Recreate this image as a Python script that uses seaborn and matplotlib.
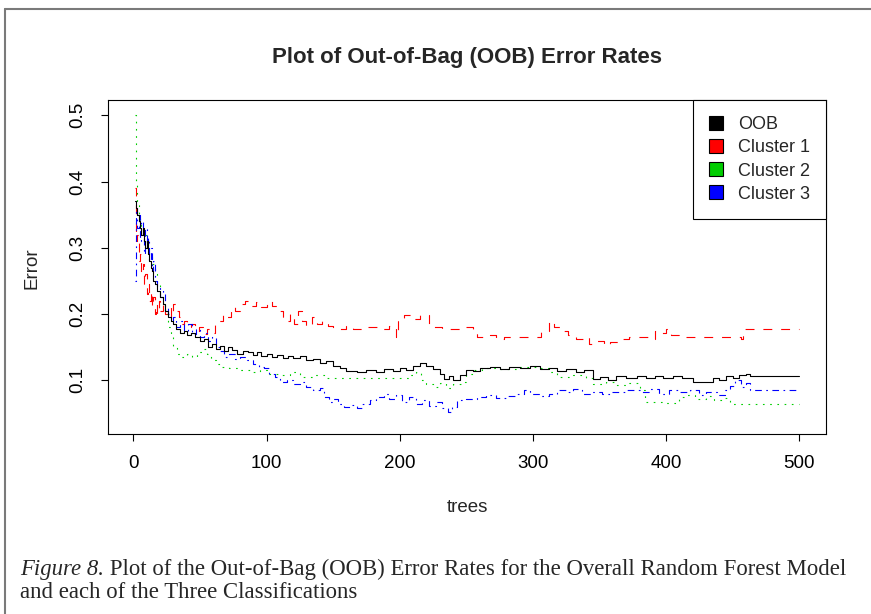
import numpy as np
import pandas as pd
import matplotlib
matplotlib.use("Agg")
import matplotlib.pyplot as plt
from matplotlib.lines import Line2D
import seaborn as sns

# ---------------- data (step breakpoints) ----------------
oob_trees = [1,2,3,4,5,6,7,8,9,10,11,12,13,14,15,16,18,20,22,24,26,28,30,32,35,38,40,43,46,50,
             53,56,59,62,65,68,71,74,78,82,86,90,93,96,100,104,108,112,116,120,125,130,135,140,
             145,150,155,160,168,175,182,188,195,200,205,210,215,220,225,230,233,237,240,245,250,
             255,260,268,275,282,290,298,305,312,318,325,332,338,345,350,356,362,370,378,385,392,
             398,405,412,420,428,435,440,445,450,455,460,463,500]
oob_vals = [0.37,0.36,0.35,0.34,0.33,0.32,0.33,0.31,0.30,0.31,0.29,0.28,0.27,0.265,0.25,0.245,0.235,
            0.225,0.215,0.205,0.195,0.19,0.185,0.178,0.172,0.175,0.168,0.172,0.165,0.160,0.163,0.150,
            0.155,0.148,0.152,0.145,0.150,0.146,0.140,0.145,0.142,0.138,0.143,0.137,0.140,0.135,0.138,
            0.133,0.137,0.134,0.136,0.130,0.132,0.126,0.129,0.122,0.119,0.114,0.112,0.115,0.113,0.117,
            0.114,0.118,0.116,0.121,0.126,0.122,0.117,0.110,0.102,0.106,0.100,0.108,0.116,0.114,0.118,
            0.120,0.117,0.120,0.118,0.121,0.117,0.119,0.114,0.117,0.112,0.115,0.102,0.105,0.101,0.106,
            0.104,0.106,0.103,0.107,0.104,0.106,0.104,0.098,0.097,0.103,0.100,0.106,0.103,0.108,0.110,
            0.107,0.107]

c1_trees = [1,2,3,4,5,6,7,8,9,10,11,12,13,14,15,16,17,18,19,20,22,24,26,28,30,32,34,36,38,40,43,46,
            49,52,55,58,61,64,67,70,73,76,80,84,88,92,96,100,104,108,112,115,118,121,124,127,130,134,
            138,142,146,150,160,165,175,185,192,197,199,203,208,215,222,232,245,255,258,268,272,278,
            300,306,312,316,320,326,332,338,342,348,353,358,364,372,388,392,396,400,404,410,456,458,500]
c1_vals = [0.39,0.31,0.32,0.28,0.29,0.26,0.275,0.245,0.26,0.23,0.245,0.22,0.235,0.21,0.225,0.20,0.215,
           0.20,0.22,0.205,0.215,0.20,0.21,0.195,0.215,0.205,0.195,0.185,0.19,0.18,0.185,0.175,0.18,
           0.17,0.178,0.172,0.185,0.19,0.20,0.195,0.21,0.205,0.215,0.22,0.212,0.218,0.21,0.22,0.212,
           0.205,0.195,0.19,0.20,0.185,0.205,0.19,0.182,0.195,0.185,0.19,0.182,0.178,0.182,0.178,0.18,
           0.178,0.182,0.166,0.19,0.198,0.193,0.198,0.18,0.178,0.18,0.172,0.166,0.168,0.162,0.166,
           0.165,0.175,0.19,0.18,0.175,0.168,0.163,0.165,0.155,0.16,0.153,0.158,0.163,0.165,0.163,
           0.175,0.172,0.178,0.168,0.165,0.163,0.178,0.178]

c2_trees = [1,2,3,4,5,6,8,10,12,14,16,18,20,22,24,26,28,30,33,36,40,44,48,52,55,58,62,66,72,80,88,
            95,100,110,118,125,135,145,160,200,208,212,216,220,226,230,235,240,246,250,256,262,275,
            290,305,312,318,330,340,345,355,362,372,380,384,400,410,416,422,430,436,442,448,500]
c2_vals = [0.50,0.40,0.37,0.35,0.34,0.33,0.32,0.30,0.29,0.275,0.26,0.245,0.23,0.215,0.20,0.18,0.165,
           0.15,0.14,0.135,0.14,0.135,0.142,0.148,0.14,0.13,0.125,0.12,0.118,0.115,0.112,0.115,0.11,
           0.108,0.112,0.105,0.108,0.104,0.103,0.103,0.108,0.112,0.100,0.095,0.09,0.096,0.088,0.094,
           0.098,0.11,0.115,0.118,0.117,0.12,0.118,0.112,0.105,0.108,0.103,0.095,0.098,0.093,0.096,
           0.085,0.068,0.066,0.075,0.078,0.072,0.076,0.07,0.073,0.064,0.064]

c3_trees = [1,2,3,4,5,6,7,8,9,10,11,12,13,14,15,16,18,20,22,24,26,28,30,32,35,38,41,44,47,50,53,56,
            59,62,65,68,72,76,80,85,90,94,98,102,106,110,115,120,125,130,135,140,143,147,150,154,158,
            163,168,172,178,182,188,192,197,202,207,212,217,222,227,232,236,239,243,250,258,265,272,
            280,288,293,298,305,312,318,325,330,337,344,352,358,370,380,388,395,402,410,418,425,430,
            438,444,448,452,456,460,463,500]
c3_vals = [0.25,0.36,0.33,0.35,0.31,0.34,0.32,0.29,0.33,0.30,0.315,0.28,0.30,0.265,0.28,0.25,0.24,
           0.225,0.235,0.21,0.20,0.19,0.195,0.18,0.19,0.175,0.185,0.17,0.178,0.165,0.172,0.16,0.165,
           0.15,0.145,0.135,0.14,0.132,0.135,0.13,0.125,0.12,0.118,0.11,0.105,0.098,0.10,0.095,0.097,
           0.09,0.085,0.088,0.075,0.068,0.072,0.065,0.06,0.063,0.058,0.065,0.07,0.075,0.08,0.072,
           0.078,0.068,0.075,0.065,0.07,0.062,0.068,0.058,0.052,0.06,0.07,0.072,0.075,0.078,0.074,
           0.077,0.08,0.085,0.08,0.076,0.08,0.085,0.082,0.087,0.08,0.083,0.079,0.083,0.085,0.083,
           0.087,0.08,0.085,0.082,0.086,0.078,0.083,0.078,0.085,0.092,0.10,0.09,0.096,0.085,0.085]

series_names = ["OOB", "Cluster 1", "Cluster 2", "Cluster 3"]
series_colors = ["black", "red", "#00CD00", "blue"]
x_ticks = [0, 100, 200, 300, 400, 500]
y_ticks = [0.1, 0.2, 0.3, 0.4, 0.5]

title_text = "Plot of Out-of-Bag (OOB) Error Rates"
x_label = "trees"
y_label = "Error"
caption_italic = "Figure 8."
caption_line1 = " Plot of the Out-of-Bag (OOB) Error Rates for the Overall Random Forest Model"
caption_line2 = "and each of the Three Classifications"

# ---------------- drawing ----------------
sns.set_style("white")
plt.rcParams["font.family"] = ["Liberation Sans", "DejaVu Sans"]

W, H = 871, 614
fig = plt.figure(figsize=(W / 100, H / 100), dpi=100)
ax = fig.add_axes([108 / W, 1 - 434 / H, (826 - 108) / W, (434 - 100) / H])

styles = ["-", (0, (8, 8)), (0, (1.5, 5)), (0, (1.5, 4, 6, 4))]
data = [(oob_trees, oob_vals), (c1_trees, c1_vals), (c2_trees, c2_vals), (c3_trees, c3_vals)]
order = [1, 2, 3, 0]
for i in order:
    t, v = data[i]
    df = pd.DataFrame({"trees": t, "Error": v})
    sns.lineplot(data=df, x="trees", y="Error", ax=ax, color=series_colors[i],
                 linestyle=styles[i], lw=0.8, drawstyle="steps-post",
                 estimator=None, sort=False, legend=False, zorder=3 if i == 0 else 2)

ax.set_xlim(-19, 520)
ax.set_ylim(0.019, 0.523)
ax.set_xticks(x_ticks)
ax.set_xticklabels([str(t) for t in x_ticks])
ax.set_yticks(y_ticks)
ax.set_yticklabels([f"{t:.1f}" for t in y_ticks], rotation=90, va="center")
ax.tick_params(axis="x", direction="out", length=5, width=0.8, pad=10, labelsize=13.5, colors="black")
ax.tick_params(axis="y", direction="out", length=5, width=0.8, pad=11, labelsize=13.5, colors="black")
ax.tick_params(bottom=True, left=True)
for s in ax.spines.values():
    s.set_visible(True)
    s.set_color("black")
    s.set_linewidth(0.8)
ax.set_xlabel("")
ax.set_ylabel("")
ax.grid(False)

fig.text(467 / W, 1 - 58 / H, title_text, ha="center", va="center", fontsize=16, fontweight="bold")
fig.text(467 / W, 1 - 507 / H, x_label, ha="center", va="center", fontsize=13.5)
fig.text(32 / W, 1 - 268 / H, y_label, ha="center", va="center", fontsize=13.5, rotation=90)

handles = [Line2D([], [], marker="s", linestyle="none", markersize=10,
                  markerfacecolor=c, markeredgecolor="black", markeredgewidth=0.8)
           for c in series_colors]
leg = ax.legend(handles, series_names, loc="upper right", bbox_to_anchor=(1, 1),
                fontsize=13, frameon=True, fancybox=False, framealpha=1,
                edgecolor="black", borderaxespad=0, labelspacing=0.34,
                handletextpad=0.85, borderpad=0.9, handlelength=0.75)
leg.get_frame().set_linewidth(0.8)

# outer figure frame
fig.add_artist(Line2D([5 / W, 1], [1 - 9 / H, 1 - 9 / H], transform=fig.transFigure, color="#7a7a7a", lw=1.5))
fig.add_artist(Line2D([5 / W, 5 / W], [0, 1 - 9 / H], transform=fig.transFigure, color="#7a7a7a", lw=1.5))

# caption
serif = ["Liberation Serif", "DejaVu Serif"]
fs = 15
cy1, cy2 = 1 - 569 / H, 1 - 593 / H
renderer = fig.canvas.get_renderer()
t1 = fig.text(20 / W, cy1, caption_italic, ha="left", va="center", fontsize=fs,
              style="italic", family=serif)
bb = t1.get_window_extent(renderer)
t2 = fig.text(bb.x1 / W, cy1, caption_line1, ha="left", va="center", fontsize=fs, family=serif)
bb2 = t2.get_window_extent(renderer)
scale = (848 - 20) / (bb2.x1 - bb.x0)
fs2 = fs * scale
t1.set_fontsize(fs2)
bb = t1.get_window_extent(renderer)
t2.set_fontsize(fs2)
t2.set_x(bb.x1 / W)
fig.text(20 / W, cy2, caption_line2, ha="left", va="center", fontsize=fs2, family=serif)

fig.savefig("out.png", dpi=100)
